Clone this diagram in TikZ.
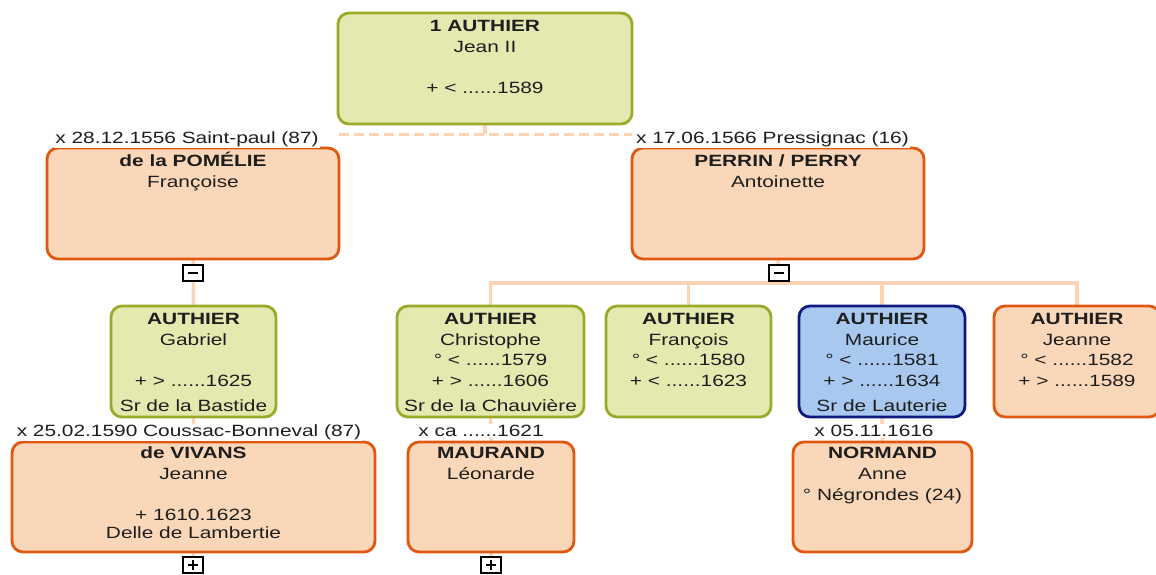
\documentclass[tikz,border=0pt]{standalone}
\usepackage{fontspec}
\setmainfont{Liberation Sans}[FakeStretch=1.28]
\pgfdeclarelayer{bg}
\pgfsetlayers{bg,main}
\definecolor{grnF}{RGB}{228,233,176}
\definecolor{grnB}{RGB}{155,170,40}
\definecolor{orgF}{RGB}{250,215,185}
\definecolor{orgB}{RGB}{224,88,16}
\definecolor{bluF}{RGB}{168,200,240}
\definecolor{bluB}{RGB}{16,24,128}
\definecolor{lnk}{RGB}{251,212,182}
\definecolor{ink}{RGB}{30,30,30}
\newcommand\fs{\fontsize{16.3}{20.6}\selectfont}
\tikzset{
  box/.style={draw, rounded corners=11pt, line width=2.8pt, inner sep=0},
  gbox/.style={box, draw=grnB, fill=grnF},
  obox/.style={box, draw=orgB, fill=orgF},
  bbox/.style={box, draw=bluB, fill=bluF},
  txt/.style={anchor=north, inner sep=0, align=center, font=\fs, text=ink, yshift=-5.2pt},
  lbl/.style={anchor=base, inner sep=1pt, fill=white, font=\fs, text=ink},
  link/.style={draw=lnk, line width=3.5pt},
  dlink/.style={draw=lnk, line width=3pt, dash pattern=on 10pt off 5pt},
  tog/.style={draw=black, fill=white, line width=1.2pt, minimum width=20pt, minimum height=16pt, inner sep=0},
  sign/.style={draw=black, line width=1.3pt}
}
\begin{document}
\begin{tikzpicture}[x=1pt,y=-1pt]
\useasboundingbox (0,0) rectangle (1156,574);
\clip (0,0) rectangle (1156,574);
% boxes
\node[gbox, minimum width=294pt, minimum height=111pt] (root) at (485,68.5) {};
\node[obox, minimum width=292pt, minimum height=111pt] (pom) at (193,203.5) {};
\node[obox, minimum width=292pt, minimum height=111pt] (per) at (778,203.5) {};
\node[gbox, minimum width=165pt, minimum height=111pt] (gab) at (193.5,361.5) {};
\node[gbox, minimum width=187pt, minimum height=111pt] (chr) at (490.5,361.5) {};
\node[gbox, minimum width=165pt, minimum height=111pt] (fra) at (688.5,361.5) {};
\node[bbox, minimum width=166pt, minimum height=111pt] (mar) at (882,361.5) {};
\node[obox, minimum width=166pt, minimum height=111pt] (jea) at (1077,361.5) {};
\node[obox, minimum width=363pt, minimum height=110pt] (viv) at (193.5,497) {};
\node[obox, minimum width=166pt, minimum height=110pt] (mau) at (491,497) {};
\node[obox, minimum width=179pt, minimum height=110pt] (nor) at (882.5,497) {};
% texts
\node[txt] (rootT) at (root.north) {\strut\textbf{1 AUTHIER}\\Jean II\\[20.6pt]+ < ......1589};
\node[txt] (pomT) at (pom.north) {\strut\textbf{de la POMÉLIE}\\Françoise};
\node[txt] (perT) at (per.north) {\strut\textbf{PERRIN / PERRY}\\Antoinette};
\node[txt] (gabT) at (gab.north) {\strut\textbf{AUTHIER}\\Gabriel\\[20.6pt]+ > ......1625\\[5pt]Sr de la Bastide};
\node[txt] (chrT) at (chr.north) {\strut\textbf{AUTHIER}\\Christophe\\° < ......1579\\+ > ......1606\\[5pt]Sr de la Chauvière};
\node[txt] (fraT) at (fra.north) {\strut\textbf{AUTHIER}\\François\\° < ......1580\\+ < ......1623};
\node[txt] (marT) at (mar.north) {\strut\textbf{AUTHIER}\\Maurice\\° < ......1581\\+ > ......1634\\[5pt]Sr de Lauterie};
\node[txt] (jeaT) at (jea.north) {\strut\textbf{AUTHIER}\\Jeanne\\° < ......1582\\+ > ......1589};
\node[txt, yshift=1.5pt] (vivT) at (viv.north) {\strut\textbf{de VIVANS}\\Jeanne\\[20.6pt]+ 1610.1623\\[-3pt]Delle de Lambertie};
\node[txt, yshift=1.5pt] (mauT) at (mau.north) {\strut\textbf{MAURAND}\\Léonarde};
\node[txt, yshift=1.5pt] (norT) at (nor.north) {\strut\textbf{NORMAND}\\Anne\\° Négrondes (24)};
% marriage labels
\node[lbl] (m1) at (187,143.5) {x 28.12.1556 Saint-paul (87)};
\node[lbl] (m2) at (772.5,143.5) {x 17.06.1566 Pressignac (16)};
\node[lbl] (m3) at (189,436.5) {x 25.02.1590 Coussac-Bonneval (87)};
\node[lbl] (m4) at (481,436.5) {x ca ......1621};
\node[lbl] (m5) at (874,436.5) {x 05.11.1616};
% toggles
\node[tog] (t1) at (193,273) {};
\node[tog] (t2) at (779,273) {};
\node[tog] (t3) at (193,565) {};
\node[tog] (t4) at (491,565) {};
\draw[sign] ([xshift=-5pt]t1.center) -- ([xshift=5pt]t1.center);
\draw[sign] ([xshift=-5pt]t2.center) -- ([xshift=5pt]t2.center);
\draw[sign] ([xshift=-5pt]t3.center) -- ([xshift=5pt]t3.center);
\draw[sign] ([yshift=-5pt]t3.center) -- ([yshift=5pt]t3.center);
\draw[sign] ([xshift=-5pt]t4.center) -- ([xshift=5pt]t4.center);
\draw[sign] ([yshift=-5pt]t4.center) -- ([yshift=5pt]t4.center);
% connectors
\coordinate (rj) at (485,134);
\coordinate (cL) at (339,134);
\coordinate (cR) at (632,134);
\coordinate (bus) at (779,283);
\begin{pgfonlayer}{bg}
\draw[link] (root.south) -- (rj);
\draw[dlink] (cL) -- (cR);
\draw[link] (pom.south) -- (gab.north);
\draw[link] (per.south) -- (bus);
\draw[link] (bus) -| (chr.north);
\draw[link] (bus) -| (fra.north);
\draw[link] (bus) -| (mar.north);
\draw[link] (bus) -| (jea.north);
\draw[link] (gab.south) -- (viv.north);
\draw[link] (chr.south) -- (mau.north);
\draw[link] (mar.south) -- (nor.north);
\draw[link] (viv.south) -- (t3.north);
\draw[link] (mau.south) -- (t4.north);
\end{pgfonlayer}
\end{tikzpicture}
\end{document}
